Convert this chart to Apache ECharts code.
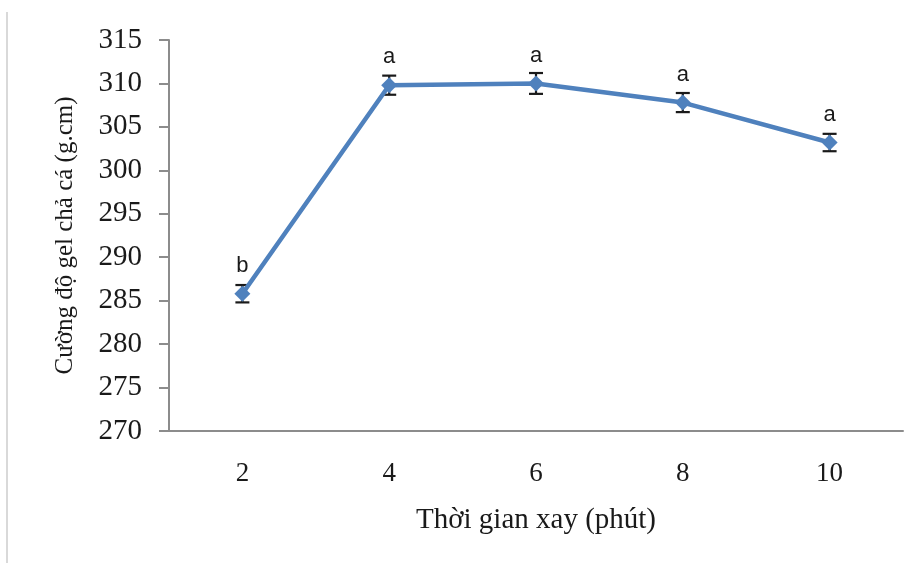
<!DOCTYPE html>
<html>
<head>
<meta charset="utf-8">
<script src="https://cdn.jsdelivr.net/npm/echarts@6/dist/echarts.min.js"></script>
<style>html,body{margin:0;padding:0;background:#fff}#c{width:922px;height:563px}</style>
</head>
<body>
<div id="c"></div>
<script>
const categories = ['2', '4', '6', '8', '10'];
const values = [285.8, 309.8, 310.0, 307.8, 303.2];
const errors = [1.0, 1.1, 1.2, 1.1, 1.0];
const letters = ['b', 'a', 'a', 'a', 'a'];
const yTicks = [270, 275, 280, 285, 290, 295, 300, 305, 310, 315];

const chart = echarts.init(document.getElementById('c'));
const errData = values.map((v, i) => [i, v - errors[i], v + errors[i]]);

chart.setOption({
  animation: false,
  backgroundColor: '#fff',
  graphic: [{
    type: 'line', shape: {x1: 7, y1: 12, x2: 7, y2: 563},
    style: {stroke: '#d9d9d9', lineWidth: 2}
  }],
  grid: {left: 169, right: 19, top: 40, bottom: 132},
  xAxis: {
    type: 'category',
    data: categories,
    boundaryGap: true,
    axisLine: {lineStyle: {color: '#8c8c8c', width: 2}},
    axisTick: {show: false},
    axisLabel: {fontFamily: 'Liberation Serif', fontSize: 27, color: '#1a1a1a', margin: 29},
    name: 'Thời gian xay (phút)',
    nameLocation: 'middle',
    nameGap: 75,
    nameTextStyle: {fontFamily: 'Liberation Serif', fontSize: 29, color: '#1a1a1a'}
  },
  yAxis: {
    type: 'value',
    min: yTicks[0],
    max: yTicks[yTicks.length - 1],
    interval: 5,
    axisLine: {show: true, lineStyle: {color: '#8c8c8c', width: 2}},
    axisTick: {show: true, length: 10, lineStyle: {color: '#8c8c8c', width: 2}},
    splitLine: {show: false},
    axisLabel: {fontFamily: 'Liberation Serif', fontSize: 29, color: '#1a1a1a', margin: 27},
    name: 'Cường độ gel chả cá (g.cm)',
    nameLocation: 'middle',
    nameGap: 91,
    nameTextStyle: {fontFamily: 'Liberation Serif', fontSize: 25, color: '#1a1a1a'}
  },
  series: [
    {
      type: 'custom',
      data: errData,
      z: 1,
      renderItem: function (params, api) {
        const lo = api.coord([api.value(0), api.value(1)]);
        const hi = api.coord([api.value(0), api.value(2)]);
        const w = 7;
        const st = {stroke: '#1a1a1a', lineWidth: 2.2};
        return {
          type: 'group',
          children: [
            {type: 'line', shape: {x1: lo[0], y1: lo[1], x2: hi[0], y2: hi[1]}, style: st},
            {type: 'line', shape: {x1: lo[0] - w, y1: lo[1], x2: lo[0] + w, y2: lo[1]}, style: st},
            {type: 'line', shape: {x1: hi[0] - w, y1: hi[1], x2: hi[0] + w, y2: hi[1]}, style: st}
          ]
        };
      }
    },
    {
      type: 'line',
      data: values,
      symbol: 'diamond',
      symbolSize: 16,
      lineStyle: {color: '#4f81bd', width: 4.5},
      itemStyle: {color: '#4f81bd'},
      label: {
        show: true,
        position: 'top',
        distance: 9,
        formatter: p => letters[p.dataIndex],
        fontFamily: 'Liberation Sans',
        fontSize: 22,
        color: '#1a1a1a'
      },
      z: 2
    }
  ]
});
</script>
</body>
</html>
